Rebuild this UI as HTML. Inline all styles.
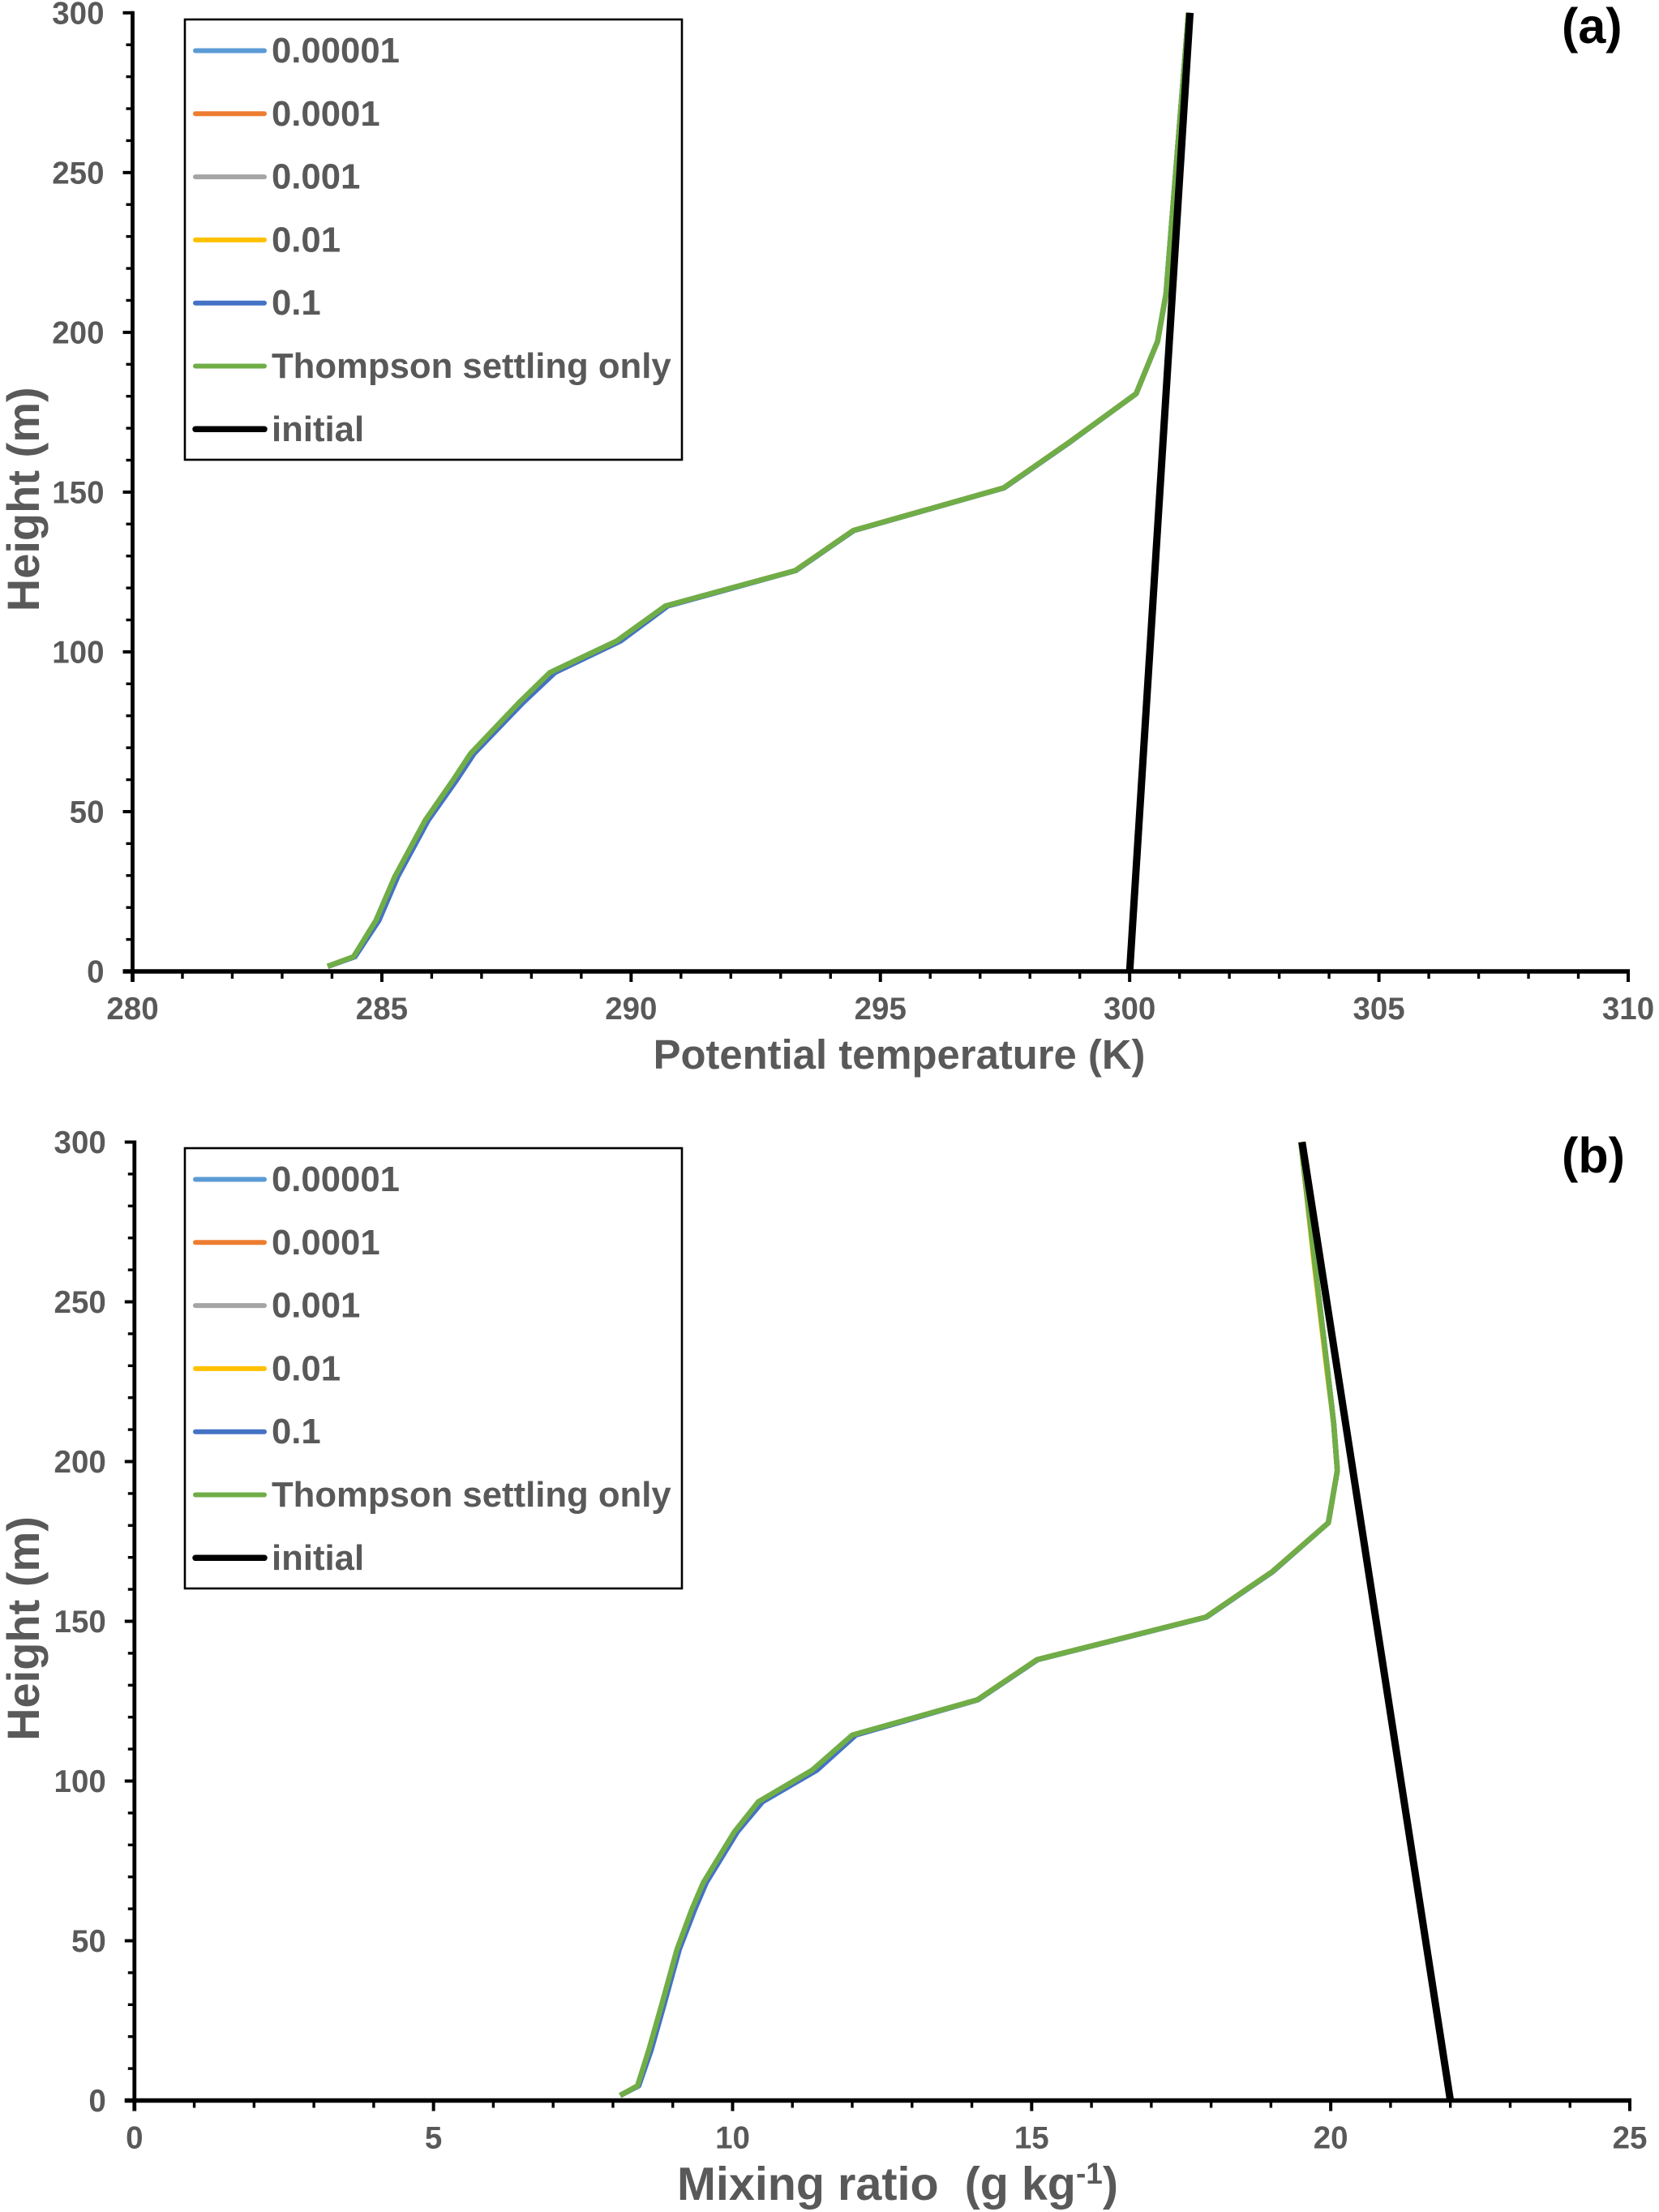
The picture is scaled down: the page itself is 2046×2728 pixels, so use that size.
<!DOCTYPE html>
<html lang="en">
<head>
<meta charset="utf-8">
<title>Potential temperature and mixing ratio profiles</title>
<style>
  html, body { margin: 0; padding: 0; background: #ffffff; }
  svg { display: block; }
  text { font-family: "Liberation Sans", Arial, sans-serif; font-weight: bold; }
</style>
</head>
<body>
<svg id="figure" xmlns="http://www.w3.org/2000/svg" width="2046" height="2728" viewBox="0 0 2046 2728"></svg>
<script>
// Shared vertical levels (m)
const heights = [1.6, 4.6, 15.9, 29.7, 47.3, 59.9, 68.2, 84.1, 93.5, 103.4, 114.4, 125.4, 138, 151.3, 165.5, 180.8, 197.2, 212, 228, 261, 300];
const initialHeights = [0, 300];

// Panel (a) potential temperature (K)
const thetaE5 = [283.92, 284.44, 284.90, 285.28, 285.89, 286.45, 286.80, 287.77, 288.40, 289.74, 290.70, 293.29, 294.46, 297.47, 298.78, 300.13, 300.56, 300.73, 300.81, 300.98, 301.18];
const thetaE4 = [283.92, 284.44, 284.90, 285.28, 285.89, 286.45, 286.80, 287.77, 288.40, 289.74, 290.70, 293.29, 294.46, 297.47, 298.78, 300.13, 300.56, 300.73, 300.81, 300.98, 301.18];
const thetaE3 = [283.92, 284.44, 284.90, 285.28, 285.89, 286.45, 286.80, 287.77, 288.40, 289.74, 290.70, 293.29, 294.46, 297.47, 298.78, 300.13, 300.56, 300.73, 300.81, 300.98, 301.18];
const thetaE2 = [283.92, 284.44, 284.91, 285.29, 285.90, 286.46, 286.81, 287.78, 288.42, 289.75, 290.71, 293.29, 294.46, 297.47, 298.78, 300.13, 300.56, 300.73, 300.81, 300.98, 301.18];
const thetaE1 = [283.92, 284.46, 284.94, 285.32, 285.93, 286.50, 286.85, 287.83, 288.47, 289.79, 290.74, 293.30, 294.47, 297.48, 298.79, 300.13, 300.56, 300.73, 300.81, 300.98, 301.18];
const thetaThompson = [283.91, 284.43, 284.88, 285.26, 285.87, 286.43, 286.78, 287.75, 288.37, 289.71, 290.69, 293.29, 294.46, 297.47, 298.78, 300.13, 300.56, 300.73, 300.81, 300.98, 301.18];
const thetaInitial = [300, 301.21];

// Panel (b) mixing ratio (g/kg)
const qvE5 = [8.12, 8.42, 8.61, 8.82, 9.08, 9.33, 9.52, 10.04, 10.45, 11.36, 12.02, 14.09, 15.09, 17.91, 19.02, 19.96, 20.11, 20.05, 19.95, 19.74, 19.50];
const qvE4 = [8.12, 8.42, 8.61, 8.82, 9.08, 9.33, 9.52, 10.04, 10.45, 11.36, 12.02, 14.09, 15.09, 17.91, 19.02, 19.96, 20.11, 20.05, 19.95, 19.74, 19.50];
const qvE3 = [8.12, 8.42, 8.61, 8.82, 9.08, 9.33, 9.52, 10.04, 10.45, 11.36, 12.02, 14.09, 15.09, 17.91, 19.02, 19.96, 20.11, 20.05, 19.95, 19.74, 19.50];
const qvE2 = [8.12, 8.42, 8.62, 8.83, 9.09, 9.34, 9.53, 10.05, 10.46, 11.37, 12.03, 14.09, 15.09, 17.91, 19.02, 19.96, 20.11, 20.05, 19.94, 19.73, 19.50];
const qvE1 = [8.12, 8.43, 8.64, 8.85, 9.11, 9.37, 9.56, 10.08, 10.50, 11.41, 12.06, 14.10, 15.10, 17.92, 19.03, 19.96, 20.11, 20.05, 19.95, 19.74, 19.50];
const qvThompson = [8.12, 8.41, 8.60, 8.81, 9.07, 9.32, 9.51, 10.03, 10.43, 11.33, 12.00, 14.09, 15.09, 17.91, 19.02, 19.96, 20.11, 20.05, 19.95, 19.74, 19.50];
const qvInitial = [22, 19.52];

// Axis labels
const heightTickLabels = ["0", "50", "100", "150", "200", "250", "300"];
const thetaTickLabels = ["280", "285", "290", "295", "300", "305", "310"];
const qvTickLabels = ["0", "5", "10", "15", "20", "25"];

// Legend
const legendNames = ["0.00001", "0.0001", "0.001", "0.01", "0.1", "Thompson settling only", "initial"];
const seriesColors = ["#5B9BD5", "#ED7D31", "#A5A5A5", "#FFC000", "#4472C4", "#70AD47", "#000000"];

const NS = "http://www.w3.org/2000/svg";
const figure = document.getElementById("figure");
const TEXT_GREY = "#595959";

function make(tag, attrs, parent) {
  const el = document.createElementNS(NS, tag);
  for (const k in attrs) el.setAttribute(k, attrs[k]);
  parent.appendChild(el);
  return el;
}

function drawPanel(p) {
  const sx = v => p.x0 + (v - p.xMin) / (p.xMax - p.xMin) * (p.x1 - p.x0);
  const sy = v => p.y0 + (v - 0) / (300 - 0) * (p.y1 - p.y0);

  const g = make("g", {}, figure);
  
  

  // minor and major ticks: y axis
  for (let v = 0; v <= 300; v += 10) {
    const major = v % 50 === 0;
    const tick = make("line", { x1: p.x0 - (major ? 12 : 8), x2: p.x0, y1: sy(v), y2: sy(v), stroke: "#000", "stroke-width": major ? 4 : 3.4 }, g);
    
    
  }
  // minor and major ticks: x axis
  const span = p.xMax - p.xMin;
  for (let i = 0; i <= span; i++) {
    const major = i % 5 === 0;
    const xv = p.xMin + i;
    const tick = make("line", { x1: sx(xv), x2: sx(xv), y1: p.y0, y2: p.y0 + (major ? 13 : 9), stroke: "#000", "stroke-width": major ? 4 : 3.4 }, g);
    
    
  }

  // series
  p.series.forEach((vals, i) => {
    const pts = vals.map((v, j) => sx(v).toFixed(1) + "," + sy(heights[j]).toFixed(1)).join(" ");
    const line = make("polyline", { points: pts, fill: "none", stroke: seriesColors[i], "stroke-width": 6.5, "stroke-linejoin": "round", "stroke-linecap": "butt" }, g);
    
    
  });
  const initPts = p.initial.map((v, j) => sx(v).toFixed(1) + "," + sy(initialHeights[j]).toFixed(1)).join(" ");
  const initLine = make("polyline", { points: initPts, fill: "none", stroke: seriesColors[6], "stroke-width": 9 }, g);
  
  

  // axis lines
  const yAxis = make("line", { x1: p.x0, x2: p.x0, y1: p.y1 - 2, y2: p.y0 + 13, stroke: "#000", "stroke-width": 4.8 }, g);
  
  
  const xAxis = make("line", { x1: p.x0 - 12, x2: p.x1 + 2, y1: p.y0, y2: p.y0, stroke: "#000", "stroke-width": 5.4 }, g);
  
  

  // tick labels
  heightTickLabels.forEach(lbl => {
    const t = make("text", { x: p.x0 - 35, y: sy(+lbl) + 13.5, "text-anchor": "end", "font-size": 38.5, fill: TEXT_GREY }, g);
    
    
    t.textContent = lbl;
  });
  p.xLabels.forEach(lbl => {
    const t = make("text", { x: sx(+lbl), y: p.y0 + 59, "text-anchor": "middle", "font-size": 38.5, fill: TEXT_GREY }, g);
    
    
    t.textContent = lbl;
  });

  // y title
  const yc = p.y1 + 600;
  const yTitle = make("text", { x: 48, y: yc, transform: "rotate(-90 48 " + yc + ")", "text-anchor": "middle", "font-size": 56, fill: TEXT_GREY }, g);
  
  
  yTitle.textContent = "Height (m)";

  // legend
  const lg = make("g", {}, g);
  
  
  const box = make("rect", { x: 228, y: p.legendTop, width: 613, height: 543, fill: "#fff", stroke: "#000", "stroke-width": 2.6 }, lg);
  
  
  legendNames.forEach((name, i) => {
    const ly = p.legendTop + 38.5 + i * 77.8;
    const sw = make("line", { x1: 241, x2: 326, y1: ly, y2: ly, stroke: seriesColors[i], "stroke-width": i === 6 ? 7.5 : 6, "stroke-linecap": "round" }, lg);
    
    
    const t = make("text", { x: 335, y: ly + 14.5, "font-size": 43.7, fill: TEXT_GREY }, lg);
    
    
    t.textContent = name;
  });

  // panel letter
  const letter = make("text", { x: 1926, y: p.letterY, "font-size": 61, fill: "#000" }, g);
  
  
  letter.textContent = p.letter;

  return g;
}

const panelA = drawPanel({
  key: "a", letter: "(a)", letterY: 53,
  x0: 163.5, x1: 2008, y0: 1198, y1: 15.8, xMin: 280, xMax: 310,
  legendTop: 24,
  series: [thetaE5, thetaE4, thetaE3, thetaE2, thetaE1, thetaThompson],
  initial: thetaInitial, xLabels: thetaTickLabels
});
const titleA = make("text", { x: 1109, y: 1318, "text-anchor": "middle", "font-size": 50.8, fill: TEXT_GREY }, panelA);


titleA.textContent = "Potential temperature (K)";

const panelB = drawPanel({
  key: "b", letter: "(b)", letterY: 1446,
  x0: 165.8, x1: 2010, y0: 2590.5, y1: 1408.5, xMin: 0, xMax: 25,
  legendTop: 1416,
  series: [qvE5, qvE4, qvE3, qvE2, qvE1, qvThompson],
  initial: qvInitial, xLabels: qvTickLabels
});
const titleB = make("text", { x: 1107, y: 2713, "text-anchor": "middle", "font-size": 57.5, fill: TEXT_GREY, "xml:space": "preserve" }, panelB);


titleB.style.whiteSpace = "pre";
const tb1 = make("tspan", {}, titleB);
tb1.textContent = "Mixing ratio  (g kg";
const tb2 = make("tspan", { dy: -20, "font-size": 37 }, titleB);
tb2.textContent = "-1";
const tb3 = make("tspan", { dy: 20 }, titleB);
tb3.textContent = ")";
</script>
</body>
</html>
